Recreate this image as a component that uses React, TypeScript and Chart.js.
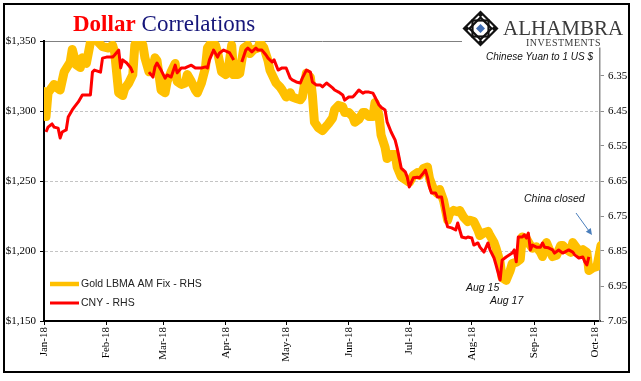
import React, { useEffect, useRef } from "react";
import { Chart, registerables } from "chart.js";

Chart.register(...registerables);

// ---------- data (x = days since 1 Jan 2018) ----------
const monthStarts = [0, 31, 59, 90, 120, 151, 181, 212, 243, 273];
const monthLabels = ["Jan-18", "Feb-18", "Mar-18", "Apr-18", "May-18", "Jun-18", "Jul-18", "Aug-18", "Sep-18", "Oct-18"];

const goldTicks = [1150, 1200, 1250, 1300, 1350];
const cnyTicks = [6.35, 6.45, 6.55, 6.65, 6.75, 6.85, 6.95, 7.05];

const goldDays = [
  0, 1, 2, 4, 5, 7, 8, 10, 13, 14, 16, 18, 19, 21, 23, 24, 27, 29,
  32, 34, 35, 37, 39, 40, 42, 44, 45, 47, 49, 50, 52, 54, 55, 56, 58,
  60, 61, 63, 65, 66, 68, 70, 71, 73, 75, 76, 78, 80, 81, 83, 85, 86, 88,
  90, 91, 93, 94, 96, 97, 99, 101, 102, 104, 106, 107, 109, 111, 112, 113, 115, 117, 118,
  120, 122, 123, 125, 127, 128, 130, 132, 133, 134, 136, 138, 141, 143, 144, 146, 148, 149,
  151, 153, 154, 156, 158, 159, 161, 163, 164, 166, 167, 169, 170, 172, 174, 175, 177, 179,
  181, 183, 185, 186, 188, 190, 191, 193, 195, 196, 198, 200, 201, 203, 205, 206, 208, 210, 211,
  213, 215, 216, 218, 220, 221, 223, 224, 226, 227, 229, 231, 232, 234, 236, 237, 239, 241, 242,
  244, 246, 247, 249, 251, 252, 254, 256, 257, 259, 261, 262, 264, 266, 267, 269, 270, 272,
  274, 276,
];
const goldValues = [
  1314, 1296, 1313, 1317, 1319, 1316, 1315, 1328, 1335, 1344, 1333, 1331, 1338, 1334, 1349, 1356, 1349, 1346,
  1345, 1347, 1342, 1313, 1311, 1316, 1320, 1326, 1347, 1354, 1347, 1338, 1328, 1331, 1338, 1336, 1315,
  1313, 1321, 1328, 1334, 1321, 1319, 1320, 1326, 1321, 1315, 1313, 1320, 1331, 1345, 1349, 1347, 1342, 1328,
  1326, 1327, 1347, 1326, 1326, 1327, 1345, 1347, 1341, 1344, 1345, 1349, 1345, 1336, 1329, 1326, 1320, 1317, 1315,
  1310, 1313, 1310, 1309, 1308, 1310, 1327, 1324, 1311, 1292, 1288, 1286, 1291, 1295, 1301, 1304, 1303, 1299,
  1299, 1296, 1292, 1294, 1299, 1299, 1296, 1296, 1306, 1297, 1283, 1274, 1266, 1269, 1269, 1260, 1253, 1251,
  1249, 1254, 1256, 1254, 1259, 1260, 1252, 1244, 1241, 1244, 1236, 1222, 1227, 1229, 1228, 1229, 1224, 1221, 1222,
  1221, 1215, 1211, 1213, 1214, 1211, 1206, 1202, 1192, 1181, 1179, 1186, 1191, 1192, 1194, 1210, 1209, 1204, 1202,
  1203, 1199, 1196, 1206, 1199, 1196, 1197, 1204, 1204, 1201, 1199, 1206, 1202, 1199, 1201, 1199, 1186, 1188,
  1189, 1204,
];

// null = China closed (line break)
const cnyDays = [
  1, 2, 4, 5, 7, 8, 9, 11, 12, 14, 15, 17, 19, 21, 23, 24, 25, 28, 29,
  31, 34, 35, 37, 38, 39, 41, 43, 44, 48, 52, 54, 55, 56, 58,
  60, 61, 63, 65, 66, 68, 70, 71, 73, 75, 76, 78, 80, 81, 82, 84, 86, 87, 89,
  91, 92, 94, 96, 98, 100, 101, 103, 105, 106, 108, 110, 111, 113, 114, 116, 118,
  120, 122, 123, 125, 127, 128, 130, 132, 133, 135, 137, 138, 140, 143, 144, 146, 148, 149,
  151, 153, 154, 156, 158, 159, 161, 163, 164, 166, 167, 169, 170, 172, 174, 175, 177, 179, 180,
  181, 183, 185, 186, 188, 189, 190, 191, 192, 194, 195, 197, 199, 200, 202, 204, 205, 207, 209, 210,
  212, 213, 215, 216, 218, 220, 221, 223, 224, 226, 227, 229, 232, 233, 234, 235, 237, 238, 239, 240, 241, 242,
  244, 246, 247, 248, 250, 252, 253, 255, 257, 258, 260, 262, 263, 265, 267, 268, 269, 270,
];
const cnyValues = [
  6.51, 6.496, 6.487, 6.496, 6.499, 6.527, 6.51, 6.504, 6.467, 6.447, 6.439, 6.424, 6.404, 6.404, 6.404, 6.339, 6.333, 6.339, 6.299,
  6.296, 6.296, 6.29, 6.276, 6.327, 6.304, 6.313, 6.327, 6.341, null, 6.339, 6.353, 6.324, 6.313, 6.333,
  6.356, 6.347, 6.353, 6.319, 6.341, 6.327, 6.327, 6.324, 6.319, 6.327, 6.327, 6.327, 6.324, 6.327, 6.304, 6.276, 6.296, 6.284, 6.276,
  6.281, 6.284, 6.304, null, 6.31, 6.276, 6.27, 6.281, 6.27, 6.276, 6.276, 6.29, 6.299, 6.31, 6.304, 6.333, 6.327,
  6.327, 6.356, 6.361, 6.367, 6.37, 6.356, 6.333, 6.339, 6.367, 6.376, 6.376, 6.381, 6.37, 6.384, 6.39, 6.396, 6.404, 6.419,
  6.41, 6.41, 6.404, 6.39, 6.399, 6.396, 6.396, 6.399, 6.41, 6.433, 6.439, 6.447, 6.481, 6.51, 6.533, 6.556, 6.613, 6.624, 6.639,
  6.667, 6.641, 6.639, 6.641, 6.627, 6.619, 6.639, 6.667, 6.684, 6.684, 6.696, 6.696, 6.761, 6.781, 6.784, 6.79, 6.77, 6.81, 6.813, 6.81,
  6.813, 6.833, 6.827, 6.839, 6.853, 6.827, 6.847, 6.87, 6.89, 6.933, 6.876, 6.867, 6.856, 6.847, 6.881, 6.81, 6.81, 6.804, 6.813, 6.799, 6.847, 6.833,
  6.839, 6.839, 6.827, 6.839, 6.841, 6.847, 6.856, 6.847, 6.856, 6.853, 6.847, 6.853, 6.861, 6.87, 6.867, 6.881, 6.89, 6.867,
];

const GOLD = "#FFC000";
const RED = "#FF0000";
const SERIF = '"Liberation Serif", "Times New Roman", serif';
const SANS = '"Liberation Sans", Arial, sans-serif';

const decorPlugin = {
  id: "decor",
  afterDraw(chart: any) {
    const ctx = chart.ctx as CanvasRenderingContext2D;
    ctx.save();

    // logo background
    ctx.fillStyle = "#ffffff";
    ctx.fillRect(462, 4, 168, 43.5);

    // logo icon
    const cx = 480.5, cy = 28.5;
    ctx.strokeStyle = "#111";
    ctx.lineWidth = 2.2;
    const diamond = (r: number) => {
      ctx.beginPath();
      ctx.moveTo(cx, cy - r);
      ctx.lineTo(cx + r, cy);
      ctx.lineTo(cx, cy + r);
      ctx.lineTo(cx - r, cy);
      ctx.closePath();
    };
    diamond(16.5);
    ctx.stroke();
    diamond(11);
    ctx.stroke();
    ctx.strokeRect(cx - 8, cy - 8, 16, 16);
    ctx.lineWidth = 1.5;
    for (const [dx, dy] of [[0, -13.5], [13.5, 0], [0, 13.5], [-13.5, 0]]) {
      ctx.beginPath();
      ctx.moveTo(cx + dx, cy + dy - 2.5);
      ctx.lineTo(cx + dx + 2.5, cy + dy);
      ctx.lineTo(cx + dx, cy + dy + 2.5);
      ctx.lineTo(cx + dx - 2.5, cy + dy);
      ctx.closePath();
      ctx.fillStyle = "#111";
      ctx.fill();
    }
    diamond(4.5);
    ctx.fillStyle = "#3f6db4";
    ctx.fill();

    // logo text
    ctx.fillStyle = "#3a3a3a";
    ctx.textBaseline = "alphabetic";
    ctx.textAlign = "left";
    ctx.font = `21px ${SERIF}`;
    ctx.fillText("ALHAMBRA", 503, 35);
    ctx.font = `10px ${SERIF}`;
    (ctx as any).letterSpacing = "0.5px";
    ctx.fillText("INVESTMENTS", 526, 45.5);
    (ctx as any).letterSpacing = "0px";

    // title
    ctx.font = `bold 23px ${SERIF}`;
    ctx.fillStyle = "#FF0000";
    ctx.fillText("Dollar", 73, 31);
    const w = ctx.measureText("Dollar").width;
    ctx.font = `23px ${SERIF}`;
    ctx.fillStyle = "#16167a";
    ctx.fillText("Correlations", 73 + w + 6, 31);

    // right axis caption
    ctx.font = `italic 10px ${SANS}`;
    ctx.fillStyle = "#111";
    ctx.textAlign = "right";
    ctx.textBaseline = "middle";
    ctx.fillText("Chinese Yuan to 1 US $", 593, 57);

    // legend
    const ds = chart.data.datasets;
    const items = [ds[1], ds[0]];
    const ys = [284, 303];
    ctx.textAlign = "left";
    ctx.font = `10.5px ${SANS}`;
    items.forEach((d: any, i: number) => {
      ctx.strokeStyle = d.borderColor;
      ctx.lineWidth = i === 0 ? 4.5 : 3;
      ctx.lineCap = "butt";
      ctx.beginPath();
      ctx.moveTo(50, ys[i]);
      ctx.lineTo(79, ys[i]);
      ctx.stroke();
      ctx.fillStyle = "#222";
      ctx.fillText(d.label, 81, ys[i] + 0.5);
    });

    // annotations
    ctx.font = `italic 10.5px ${SANS}`;
    ctx.fillStyle = "#111";
    ctx.fillText("China closed", 524, 199);
    ctx.fillText("Aug 15", 466, 288);
    ctx.fillText("Aug 17", 490, 301);

    // arrow
    const x1 = 576, y1 = 213, x2 = 592, y2 = 235;
    ctx.strokeStyle = "#4a7ebb";
    ctx.fillStyle = "#4a7ebb";
    ctx.lineWidth = 1;
    ctx.beginPath();
    ctx.moveTo(x1, y1);
    ctx.lineTo(x2 - 3, y2 - 4);
    ctx.stroke();
    const ang = Math.atan2(y2 - y1, x2 - x1);
    ctx.beginPath();
    ctx.moveTo(x2, y2);
    ctx.lineTo(x2 - 7 * Math.cos(ang - 0.45), y2 - 7 * Math.sin(ang - 0.45));
    ctx.lineTo(x2 - 7 * Math.cos(ang + 0.45), y2 - 7 * Math.sin(ang + 0.45));
    ctx.closePath();
    ctx.fill();

    ctx.restore();
  },
};

export default function App() {
  const canvasRef = useRef<HTMLCanvasElement | null>(null);

  useEffect(() => {
    if (!canvasRef.current) return;
    const chart = new Chart(canvasRef.current, {
      type: "line",
      data: {
        datasets: [
          {
            label: "CNY - RHS",
            data: cnyDays.map((d, i) => ({ x: d, y: cnyValues[i] })),
            yAxisID: "yCny",
            borderColor: RED,
            backgroundColor: RED,
            borderWidth: 3,
            pointRadius: 0,
            tension: 0,
            spanGaps: false,
            borderJoinStyle: "round",
            order: 0,
          },
          {
            label: "Gold LBMA AM Fix - RHS",
            data: goldDays.map((d, i) => ({ x: d, y: goldValues[i] })),
            yAxisID: "yGold",
            borderColor: GOLD,
            backgroundColor: GOLD,
            borderWidth: 9,
            pointRadius: 0,
            tension: 0,
            borderJoinStyle: "round",
            borderCapStyle: "round",
            order: 1,
          },
        ] as any,
      },
      options: {
        animation: false,
        responsive: false,
        maintainAspectRatio: false,
        layout: { padding: { top: 41, left: 0, right: 0, bottom: 0 } },
        plugins: {
          legend: { display: false },
          tooltip: { enabled: false },
          title: { display: false },
        },
        scales: {
          x: {
            type: "linear",
            position: "bottom",
            min: 0,
            max: 275.5,
            afterBuildTicks: (s: any) => {
              s.ticks = monthStarts.map((v) => ({ value: v }));
            },
            afterFit: (s: any) => {
              s.height = 60;
            },
            ticks: {
              autoSkip: false,
              minRotation: 90,
              maxRotation: 90,
              padding: 2,
              color: "#000",
              font: { family: SERIF, size: 11 },
              callback: (_v: any, i: number) => monthLabels[i],
            },
            grid: {
              drawOnChartArea: false,
              drawTicks: true,
              tickLength: 4,
              tickColor: "#000",
              tickWidth: 1,
            },
            border: { color: "#000", width: 2 },
          },
          yGold: {
            type: "linear",
            position: "left",
            min: 1150,
            max: 1350,
            afterBuildTicks: (s: any) => {
              s.ticks = goldTicks.map((v) => ({ value: v }));
            },
            afterFit: (s: any) => {
              s.width = 44;
            },
            ticks: {
              padding: 4,
              color: "#000",
              font: { family: SERIF, size: 11 },
              callback: (v: any) => "$" + Number(v).toLocaleString("en-US"),
            },
            grid: {
              color: (c: any) =>
                c.tick && c.tick.value === 1350
                  ? "#808080"
                  : c.tick && c.tick.value === 1150
                  ? "rgba(0,0,0,0)"
                  : "#c4c4c4",
              lineWidth: 1,
              tickLength: 4,
              tickColor: "#000",
              tickWidth: 1,
            },
            border: {
              color: "#000",
              width: 2,
              dash: (c: any) =>
                c.type === "tick" && c.tick && c.tick.value !== 1350 ? [3, 2] : [],
            },
          },
          yCny: {
            type: "linear",
            position: "right",
            reverse: true,
            min: 6.25,
            max: 7.05,
            afterBuildTicks: (s: any) => {
              s.ticks = cnyTicks.map((v) => ({ value: v }));
            },
            afterFit: (s: any) => {
              s.width = 41;
            },
            ticks: {
              padding: 4,
              color: "#000",
              font: { family: SERIF, size: 11 },
              callback: (v: any) => Number(v).toFixed(2),
            },
            grid: {
              drawOnChartArea: false,
              tickLength: 4,
              tickColor: "#8c8c8c",
              tickWidth: 1,
            },
            border: { color: "#8c8c8c", width: 1.5 },
          },
        } as any,
      },
      plugins: [decorPlugin],
    });
    return () => chart.destroy();
  }, []);

  return (
    <div style={{ position: "fixed", left: 0, top: 0, width: 641, height: 381, background: "#fff" }}>
      <canvas ref={canvasRef} width={641} height={381} style={{ width: 641, height: 381, display: "block" }} />
      <div
        style={{
          position: "absolute",
          left: 3,
          top: 3,
          width: 627,
          height: 370,
          border: "2px solid #000",
          boxSizing: "border-box",
          pointerEvents: "none",
        }}
      />
    </div>
  );
}
